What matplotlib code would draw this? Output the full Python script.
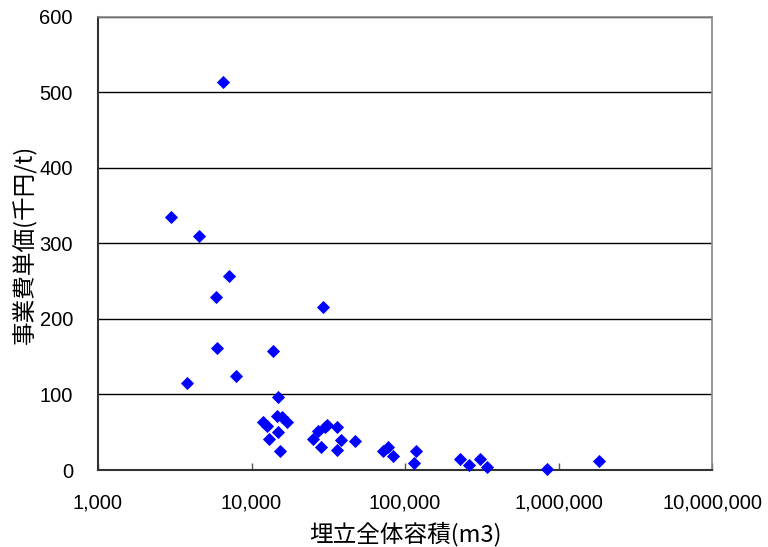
import matplotlib
matplotlib.use("Agg")
import matplotlib.pyplot as plt
from matplotlib.ticker import FuncFormatter, FixedLocator, NullLocator

# data: landfill total volume (m3) vs project cost per unit (thousand yen / t)
volume = [6500, 2990, 4550, 7130, 5870, 29200, 5960, 13800, 3800, 7920,
          14900, 11900, 12700, 13000, 14950, 15400, 14600, 15700, 17100,
          25000, 27000, 30000, 31000, 36200, 28400, 36200, 38300, 47200,
          71600, 77900, 83900, 117400, 115000, 228000, 261000, 310000,
          341000, 842000, 1845000]
unit_cost = [514, 335, 310, 257, 229, 215, 162, 158, 115, 124,
             97, 63, 58, 41, 50, 24.5, 71, 70, 64,
             41, 51, 57, 59, 57, 30, 26, 40, 39,
             24.5, 30, 19, 24.5, 9, 15, 6, 15,
             4.6, 1.6, 11.7]
x_ticks = [1e3, 1e4, 1e5, 1e6, 1e7]
y_ticks = [0, 100, 200, 300, 400, 500, 600]
x_label = "埋立全体容積(m3)"
y_label = "事業費単価(千円/t)"

W, H = 768, 547
fig = plt.figure(figsize=(W / 100, H / 100), dpi=100)
ax = fig.add_axes([98 / W, 1 - 470 / H, (712 - 98) / W, (470 - 16.5) / H])

ax.plot(volume, unit_cost, linestyle="none", marker="D", markersize=5.8,
        color="#0000FF", markeredgecolor="#0000FF", markeredgewidth=0.6,
        zorder=3, clip_on=False)

ax.set_xscale("log")
ax.set_xlim(1e3, 1e7)
ax.set_ylim(0, 600)
ax.xaxis.set_major_locator(FixedLocator(x_ticks))
ax.xaxis.set_minor_locator(NullLocator())
ax.xaxis.set_major_formatter(FuncFormatter(lambda v, p: f"{int(round(v)):,}"))
ax.set_yticks(y_ticks)

ax.yaxis.grid(True, color="black", linewidth=1.0)
ax.set_axisbelow(True)

for s in ["top", "right"]:
    ax.spines[s].set_color("#888888")
    ax.spines[s].set_linewidth(1.2)
for s in ["left", "bottom"]:
    ax.spines[s].set_color("#333333")
    ax.spines[s].set_linewidth(1.5)

tick_family = ["Liberation Sans", "DejaVu Sans"]
ax.tick_params(axis="x", direction="in", length=5, width=1, color="#555555", pad=17)
ax.tick_params(axis="y", direction="in", length=0, pad=18)
for lab in ax.get_xticklabels() + ax.get_yticklabels():
    lab.set_fontfamily(tick_family)
    lab.set_fontsize(14.5)

cjk = ["Noto Sans CJK JP", "DejaVu Sans"]
fig.text(405 / W, 1 - 534 / H, x_label, ha="center", va="center",
         fontsize=17, family=cjk)
fig.text(25 / W, 1 - 244 / H, y_label, ha="center", va="center",
         rotation=90, fontsize=17, family=cjk)

fig.savefig("out.png", dpi=100)
